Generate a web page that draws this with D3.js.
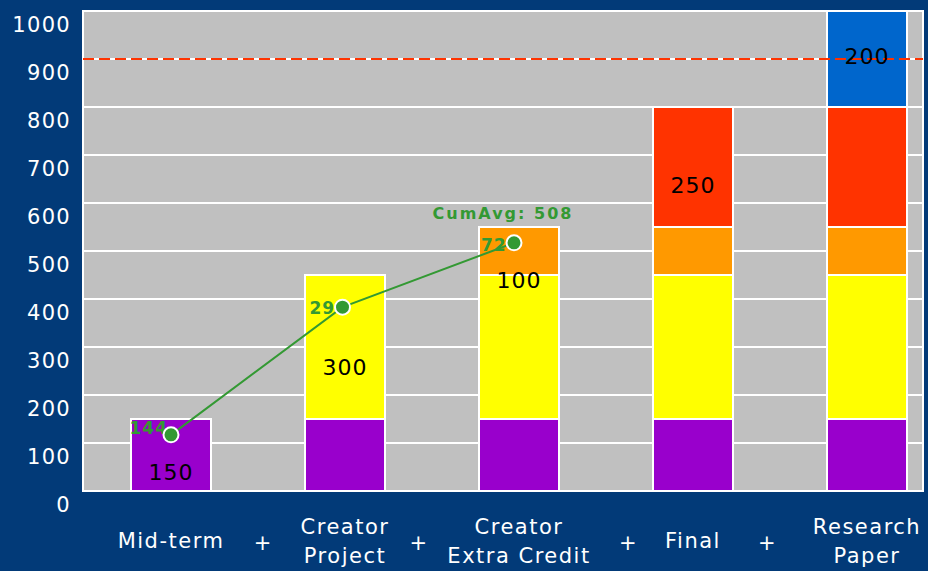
<!DOCTYPE html>
<html><head><meta charset="utf-8">
<script src="https://cdn.jsdelivr.net/npm/d3@7"></script>
<style>
html,body{margin:0;padding:0;background:#023a78;}
svg{display:block;}
text{font-family:"DejaVu Sans",sans-serif;}
</style></head>
<body>
<svg id="c" width="928" height="571"></svg>
<script>
// ---- data ----
const categories = [["Mid-term"],["Creator","Project"],["Creator","Extra Credit"],["Final"],["Research","Paper"]];
const segmentNames = ["Mid-term","Creator Project","Creator Extra Credit","Final","Research Paper"];
const segmentValues = [150, 300, 100, 250, 200];
const segmentColors = ["#9900cc","#ffff00","#ff9900","#ff3300","#0066cc"];
const segmentLabelPos = [38, 258, 440, 637, 906]; // label position (value units)
const lineValues = [117, 383, 517];
const lineLabels = ["144","29","72"];
const cumAvgLabel = "CumAvg: 508";
const threshold = 900;
const yTicks = [0,100,200,300,400,500,600,700,800,900,1000];

// ---- layout ----
const svg = d3.select("#c");
const plot = {left:83, right:923, top:11, bottom:491};
const y = d3.scaleLinear().domain([0,1000]).range([plot.bottom, plot.top]);
const x = d3.scalePoint().domain(d3.range(categories.length)).range([171, 867]);
const barW = 80;

svg.append("rect").attr("width",928).attr("height",571).attr("fill","#023a78");
svg.append("rect").attr("x",plot.left).attr("y",plot.top).attr("width",plot.right-plot.left).attr("height",plot.bottom-plot.top).attr("fill","#c0c0c0");

// gridlines
svg.append("g").selectAll("line").data(yTicks.slice(1)).join("line")
  .attr("x1",plot.left).attr("x2",plot.right).attr("y1",d=>y(d)).attr("y2",d=>y(d))
  .attr("stroke","#fff").attr("stroke-width",2);
// frame
svg.append("rect").attr("x",plot.left).attr("y",plot.top).attr("width",plot.right-plot.left).attr("height",plot.bottom-plot.top)
  .attr("fill","none").attr("stroke","#fff").attr("stroke-width",2);

// y axis labels
svg.append("g").selectAll("text").data(yTicks).join("text")
  .attr("x",71).attr("y",d=>y(d)+14).attr("dy","0.35em")
  .attr("text-anchor","end").attr("fill","#fff").attr("font-size",21).attr("letter-spacing",1.3)
  .text(d=>d);

// stacked bars: column i has segments 0..i
const stacks = [];
categories.forEach((c,i)=>{
  let base = 0;
  for(let s=0;s<=i;s++){
    stacks.push({col:i, seg:s, y0:base, y1:base+segmentValues[s]});
    base += segmentValues[s];
  }
});
svg.append("g").selectAll("rect").data(stacks).join("rect")
  .attr("x",d=>x(d.col)-barW/2).attr("width",barW)
  .attr("y",d=>y(d.y1)).attr("height",d=>y(d.y0)-y(d.y1))
  .attr("fill",d=>segmentColors[d.seg]).attr("stroke","#fff").attr("stroke-width",2);

// threshold dashed line
svg.append("line").attr("x1",plot.left).attr("x2",plot.right).attr("y1",y(threshold)).attr("y2",y(threshold))
  .attr("stroke","#ff3300").attr("stroke-width",2).attr("stroke-dasharray","11,5");

// segment labels
svg.append("g").selectAll("text").data(segmentValues).join("text")
  .attr("x",(d,i)=>x(i)).attr("y",(d,i)=>y(segmentLabelPos[i])).attr("dy","0.35em")
  .attr("text-anchor","middle").attr("font-size",22).attr("letter-spacing",1).attr("fill","#000")
  .text(d=>d);

// line (slightly left of bar centres, as in the reference)
const pts = lineValues.map((v,i)=>[x(i) - i*2.5, y(v)]);
svg.append("path").attr("d",d3.line()(pts)).attr("fill","none").attr("stroke","#339933").attr("stroke-width",2);
// line labels
svg.append("g").selectAll("text").data(lineLabels).join("text")
  .attr("x",(d,i)=>pts[i][0]+(i===0?-3:-33)).attr("y",(d,i)=>pts[i][1]+(i===0?-7:(i===1?1:2))).attr("dy","0.35em")
  .attr("text-anchor",(d,i)=>i===0?"end":"start")
  .attr("font-size",17).attr("font-weight","bold").attr("letter-spacing",1).attr("fill","#339933")
  .text(d=>d);
svg.append("g").selectAll("circle").data(pts).join("circle")
  .attr("cx",d=>d[0]).attr("cy",d=>d[1]).attr("r",7.5)
  .attr("fill","#339933").attr("stroke","#fff").attr("stroke-width",2);
svg.append("text").attr("x",pts[2][0]-11).attr("y",y(579)).attr("dy","0.35em")
  .attr("text-anchor","middle").attr("font-size",16).attr("font-weight","bold").attr("letter-spacing",2).attr("fill","#339933")
  .text(cumAvgLabel);

// x labels
const xl = svg.append("g");
const labelNodes = [];
categories.forEach((lines,i)=>{
  const t = xl.append("text").attr("x",x(i)).attr("text-anchor","middle").attr("fill","#fff")
    .attr("font-size",21).attr("letter-spacing",1.5);
  const startY = lines.length===1 ? 541 : 527;
  lines.forEach((l,j)=>t.append("tspan").attr("x",x(i)).attr("y",startY+j*29).attr("dy","0.35em").text(l));
  labelNodes.push(t.node());
});
// plus signs midway between neighbouring label extents
const boxes = labelNodes.map(n=>n.getBBox());
const plusPos = d3.range(categories.length-1).map(i=>(boxes[i].x+boxes[i].width + boxes[i+1].x)/2);
xl.selectAll("text.plus").data(plusPos).join("text").attr("class","plus")
  .attr("x",d=>d).attr("y",543).attr("dy","0.35em")
  .attr("text-anchor","middle").attr("fill","#fff").attr("font-size",21).text("+");
</script>
</body></html>
